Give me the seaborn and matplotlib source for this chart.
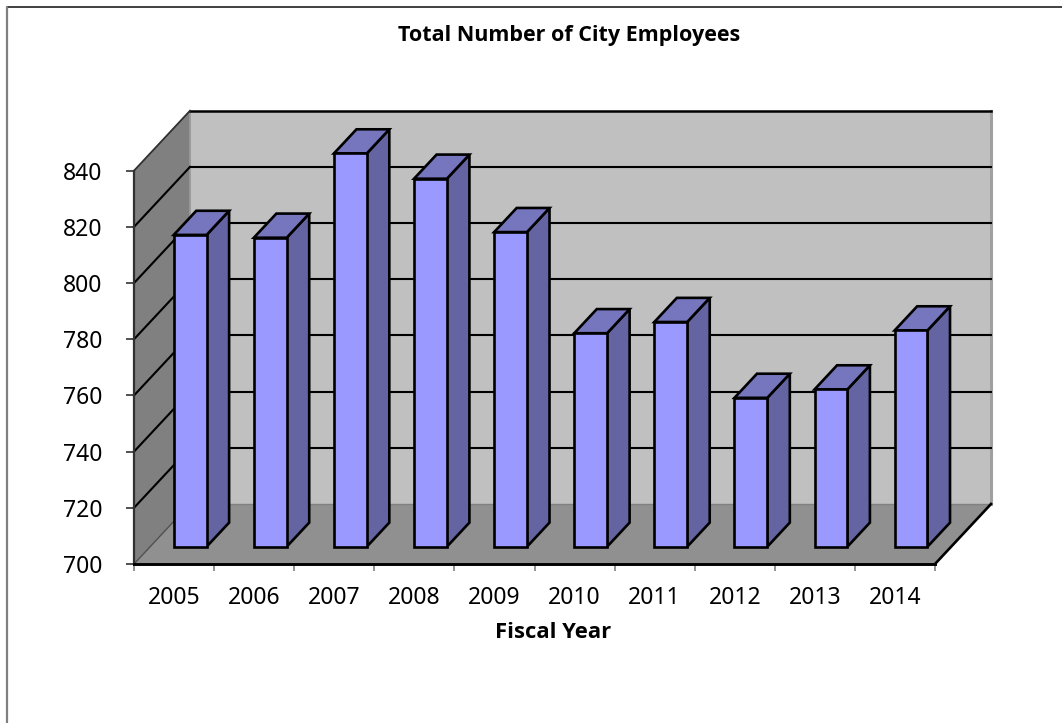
import matplotlib
matplotlib.use("Agg")
import matplotlib.pyplot as plt
from matplotlib.lines import Line2D
from matplotlib.patches import Polygon
from matplotlib.transforms import Affine2D
import seaborn as sns

years = ["2005", "2006", "2007", "2008", "2009", "2010", "2011", "2012", "2013", "2014"]
employees = [811, 810, 840, 831, 812, 776, 780, 753, 756, 777]
y_ticks = [700, 720, 740, 760, 780, 800, 820, 840]

W, H = 1062, 723
LEFT, RIGHT, BASE, TOP = 134, 935, 564, 170.7
Y_MIN, Y_MAX = 700, 840
FONT = "Noto Sans"
BOLD_FONT = "Open Sans"

# Depth of the box, expressed in data units per unit of depth
PX_PER_CAT = (RIGHT - LEFT) / len(years)
PX_PER_VAL = (BASE - TOP) / (Y_MAX - Y_MIN)
SHEAR_X = 56 / PX_PER_CAT
SHEAR_Y = 60 / PX_PER_VAL
BAR_FRONT, BAR_BACK = 0.288, 0.69
BAR_WIDTH = 0.41


def at(x, y, depth):
    """Oblique projection of a point lying `depth` into the box."""
    return (x + depth * SHEAR_X, y + depth * SHEAR_Y)


sns.set_theme(style="white")
plt.rcParams["font.family"] = [FONT, "DejaVu Sans"]

fig = plt.figure(figsize=(W / 100, H / 100), dpi=100, facecolor="white")
ax = fig.add_axes([LEFT / W, 1 - BASE / H, (RIGHT - LEFT) / W, (BASE - TOP) / H])

sns.barplot(x=years, y=employees, color="#9999FF", saturation=1, width=BAR_WIDTH,
            edgecolor="black", linewidth=1.9, ax=ax, zorder=5)
ax.set_xlim(-0.5, len(years) - 0.5)
ax.set_ylim(Y_MIN, Y_MAX)
ax.patch.set_visible(False)
for spine in ax.spines.values():
    spine.set_visible(False)

x0, x1 = ax.get_xlim()


def face(points, color, z, edge="none", lw=0):
    ax.add_patch(Polygon(points, closed=True, facecolor=color, edgecolor=edge, linewidth=lw,
                         zorder=z, clip_on=False, joinstyle="miter"))


# Walls and floor of the box
face([at(x0, Y_MIN, 0), at(x0, Y_MIN, 1), at(x0, Y_MAX, 1), at(x0, Y_MAX, 0)], "#808080", 0)
face([at(x0, Y_MIN, 1), at(x1, Y_MIN, 1), at(x1, Y_MAX, 1), at(x0, Y_MAX, 1)], "#C0C0C0", 0)
face([at(x0, Y_MIN, 0), at(x1, Y_MIN, 0), at(x1, Y_MIN, 1), at(x0, Y_MIN, 1)], "#909090", 1)


def edge(a, b, color="black", lw=2.0, z=2):
    ax.add_line(Line2D(*zip(a, b), color=color, lw=lw, zorder=z, clip_on=False,
                       solid_capstyle="projecting"))


# Gridlines run across the side wall and along the back wall
for v in y_ticks[1:-1]:
    edge(at(x0, v, 0), at(x0, v, 1), lw=1.5)
    edge(at(x0, v, 1), at(x1, v, 1), lw=1.5)

edge(at(x0, Y_MAX, 1), at(x1, Y_MAX, 1), lw=1.8)
edge(at(x0, Y_MAX, 0), at(x0, Y_MAX, 1), color="#303030", lw=1.3)
edge(at(x0, Y_MIN, 1), at(x0, Y_MAX, 1), color="#999999", lw=1.3, z=0.5)
edge(at(x1, Y_MIN, 1), at(x1, Y_MAX, 1), color="#A0A0A0", lw=2.2, z=0.5)
edge(at(x0, Y_MIN, 1), at(x1, Y_MIN, 1), color="#808080", lw=1.0)
edge(at(x0, Y_MIN, 0), at(x0, Y_MIN, 1), color="#505050", lw=1.0)
edge(at(x0, Y_MIN, 0), at(x0, Y_MAX, 0), color="#303030", lw=1.6, z=3)
edge(at(x0, Y_MIN, 0), at(x1, Y_MIN, 0), lw=2.1, z=3)
edge(at(x1, Y_MIN, 0), at(x1, Y_MIN, 1), lw=1.9, z=3)

# Each bar: front face from seaborn, pushed back into the box, then its side and top
push = Affine2D().translate(BAR_FRONT * SHEAR_X, BAR_FRONT * SHEAR_Y) + ax.transData
for bar in ax.patches[:len(years)]:
    top = bar.get_height()
    left, right = bar.get_x(), bar.get_x() + bar.get_width()
    bar.set_y(Y_MIN)
    bar.set_height(top - Y_MIN)
    bar.set_transform(push)
    bar.set_clip_on(False)
    bar.set_joinstyle("miter")
    face([at(right, Y_MIN, BAR_FRONT), at(right, Y_MIN, BAR_BACK),
          at(right, top, BAR_BACK), at(right, top, BAR_FRONT)],
         "#6464A3", 4, "black", 1.9)
    face([at(left, top, BAR_FRONT), at(right, top, BAR_FRONT),
          at(right, top, BAR_BACK), at(left, top, BAR_BACK)],
         "#7676BE", 4, "black", 1.9)

# Axis ticks and labels
ax.set_yticks(y_ticks)
ax.set_xticks([i - 0.5 for i in range(len(years) + 1)], minor=True)
ax.tick_params(axis="y", which="major", length=5.5, width=1.1, color="#202020",
               labelsize=16.5, labelcolor="black", left=True, pad=17)
ax.tick_params(axis="x", which="major", length=0, labelsize=16.5, labelcolor="black", pad=16)
ax.tick_params(axis="x", which="minor", length=5, width=1.2, color="#808080", bottom=True)
ax.set_xlabel("")
ax.set_ylabel("")

fig.text(569 / W, 1 - 35 / H, "Total Number of City Employees", ha="center", va="center",
         fontsize=15.5, fontweight="bold", color="black", family=[BOLD_FONT, "DejaVu Sans"])
fig.text(553 / W, 1 - 632 / H, "Fiscal Year", ha="center", va="center",
         fontsize=15.8, fontweight="bold", color="black", family=[BOLD_FONT, "DejaVu Sans"])

# Chart area border along the top and left of the figure
fig.add_artist(Line2D([7 / W, 1], [1 - 7 / H, 1 - 7 / H], color="#202020", lw=1.2))
fig.add_artist(Line2D([7 / W, 7 / W], [0, 1 - 7 / H], color="#808080", lw=1.6))

fig.savefig("out.png", dpi=100)
